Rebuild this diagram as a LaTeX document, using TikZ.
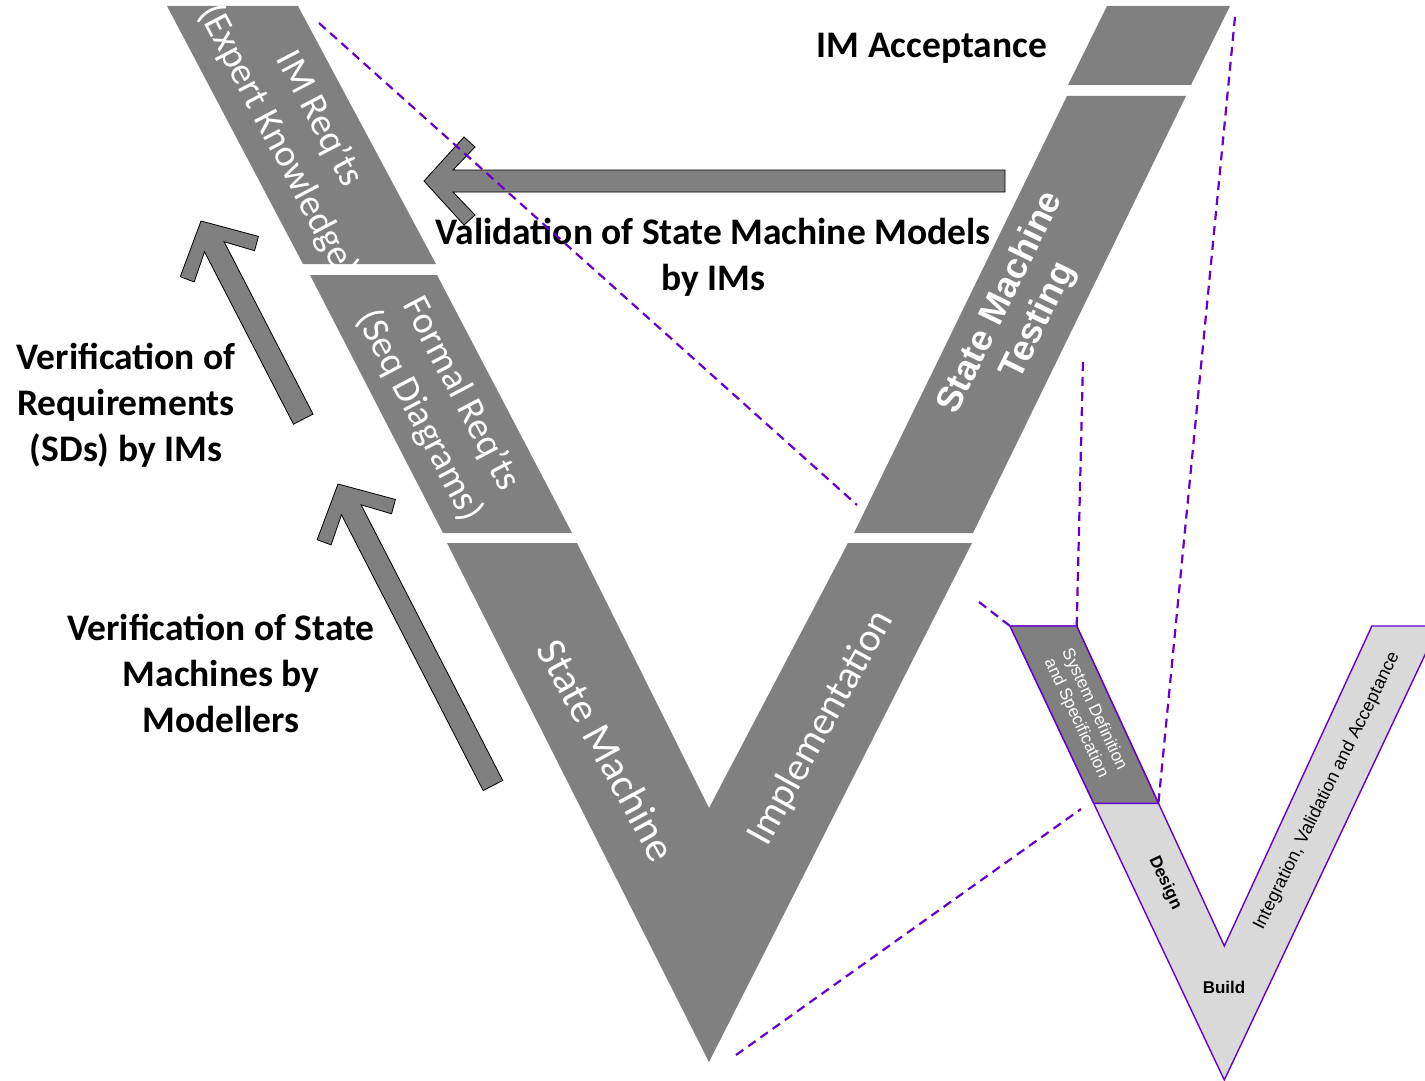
\documentclass[tikz,border=0pt]{standalone}
\usepackage{fontspec}
\setmainfont{Carlito}
\newfontfamily\arialfont{Liberation Sans}
\definecolor{vgray}{RGB}{128,128,128}
\definecolor{vlight}{RGB}{217,217,217}
\definecolor{vpurple}{RGB}{102,0,204}
\begin{document}
\begin{tikzpicture}[x=1pt,y=-1pt,
  band/.style={fill=vgray,draw=none},
  lbl/.style={font=\fontsize{37.5}{46}\selectfont\bfseries,align=center,text=black,inner sep=0pt},
  bandtxt/.style={font=\fontsize{38}{47}\selectfont,align=center,text=white,inner sep=0pt},
  smalltxt/.style={font=\arialfont\fontsize{17}{20}\selectfont,align=center,inner sep=0pt},
  purpledash/.style={draw=vpurple,line width=2.2pt,dash pattern=on 9pt off 6pt},
  arrowshape/.style={fill=vgray,draw=black,line width=0.8pt,line join=miter},
  pics/blockarrow/.style={code={
    \draw[arrowshape] (0,0) -- (40,-44) -- (51,-34) -- (29,-11) -- (#1,-11)
      -- (#1,11) -- (29,11) -- (51,34) -- (40,44) -- cycle;}}]
\useasboundingbox (0,0) rectangle (1425,1081);
\clip (0,0) rectangle (1425,1081);

% ---------- large V: band corners ----------
\coordinate (r1a) at (167,6);   \coordinate (r1b) at (298,6);
\coordinate (r1c) at (436,264); \coordinate (r1d) at (303,264);
\coordinate (r2a) at (310,275); \coordinate (r2b) at (437,275);
\coordinate (r2c) at (572,533); \coordinate (r2d) at (443,533);
\coordinate (smL1) at (447,543); \coordinate (smL2) at (577,543);
\coordinate (notch) at (709,808);
\coordinate (smR1) at (848,543); \coordinate (smR2) at (972,543);
\coordinate (vtip) at (709,1062);
\coordinate (t1) at (1067,96);  \coordinate (t2) at (1186,96);
\coordinate (t3) at (973,533);  \coordinate (t4) at (854,533);
\coordinate (a1) at (1107,6);   \coordinate (a2) at (1230,6);
\coordinate (a3) at (1191,85);  \coordinate (a4) at (1068,85);

\fill[band] (r1a) -- (r1b) -- (r1c) -- (r1d) -- cycle;
\fill[band] (r2a) -- (r2b) -- (r2c) -- (r2d) -- cycle;
\fill[band] (smL1) -- (smL2) -- (notch) -- (smR1) -- (smR2) -- (vtip) -- cycle;
\fill[band] (t1) -- (t2) -- (t3) -- (t4) -- cycle;
\fill[band] (a1) -- (a2) -- (a3) -- (a4) -- cycle;

% band labels, cut off at the band edges
\begin{scope}
  \clip (r1a) -- (r1b) -- (r1c) -- (r1d) -- cycle;
  \node[bandtxt,rotate=-62.3] (imreq) at (298,130) {IM Req’ts\\(Expert Knowledge)};
\end{scope}
\begin{scope}
  \clip (r2a) -- (r2b) -- (r2c) -- (r2d) -- cycle;
  \node[bandtxt,rotate=-62.3] (formal) at (440,405) {Formal Req’ts\\(Seq Diagrams)};
\end{scope}
\node[bandtxt,font=\fontsize{42}{50}\selectfont,rotate=-61.5] (sm) at (607,750) {State Machine};
\node[bandtxt,font=\fontsize{40}{48}\selectfont,rotate=61] (impl) at (821,728) {Implementation};
\node[bandtxt,font=\arialfont\bfseries\fontsize{36}{42}\selectfont,rotate=64] (smt) at (1020,312) {State Machine\\Testing};

% ---------- block arrows ----------
\pic at (424,181) {blockarrow=581};
\pic[rotate=-62.7] at (201,221) {blockarrow=223};
\pic[rotate=-62.8] at (338,484) {blockarrow=339};

% ---------- black labels ----------
\node[lbl] (accept) at (932,48) {IM Acceptance};
\node[lbl] (valid) at (713,257) {Validation of State Machine Models\\by IMs};
\node[lbl] (verreq) at (126,405) {Verification of\\Requirements\\(SDs) by IMs};
\node[lbl] (versm) at (221,673) {Verification of State\\Machines by\\Modellers};

% ---------- small V ----------
\coordinate (s1) at (1010,626);   \coordinate (s2) at (1076.7,626);
\coordinate (s3) at (1158.4,803.3); \coordinate (s4) at (1093.7,803.3);
\coordinate (snotch) at (1224.3,946);
\coordinate (s5) at (1371.9,626); \coordinate (s6) at (1438.6,626);
\coordinate (stip) at (1224.3,1080);
\draw[fill=vlight,draw=vpurple,line width=1.4pt,line join=miter]
  (s1) -- (s2) -- (snotch) -- (s5) -- (s6) -- (stip) -- cycle;
\draw[fill=vgray,draw=vpurple,line width=1.4pt]
  (s1) -- (s2) -- (s3) -- (s4) -- cycle;
\node[smalltxt,text=white,rotate=-64.8] (sysdef) at (1085,714) {System Definition\\and Specification};
\node[smalltxt,font=\arialfont\bfseries\fontsize{17}{20}\selectfont,rotate=-64.8] (design) at (1165,883) {Design};
\node[smalltxt,font=\arialfont\bfseries\fontsize{17}{20}\selectfont] (build) at (1224,987) {Build};
\node[smalltxt,font=\arialfont\fontsize{18}{21}\selectfont,rotate=63.6] (iva) at (1327,791) {Integration, Validation and Acceptance};

% ---------- dashed guide lines ----------
\coordinate (d1s) at (319,23);   \coordinate (d1e) at (857,505);
\coordinate (d2s) at (1235,17);
\coordinate (d3s) at (1083,362);
\coordinate (d4s) at (979,602);
\coordinate (d5s) at (736,1055); \coordinate (d5e) at (1081,809);
\draw[purpledash] (d1s) -- (d1e);
\draw[purpledash] (d2s) -- (s3);
\draw[purpledash] (d3s) -- (s2);
\draw[purpledash] (d4s) -- (s1);
\draw[purpledash] (d5s) -- (d5e);
\end{tikzpicture}
\end{document}
